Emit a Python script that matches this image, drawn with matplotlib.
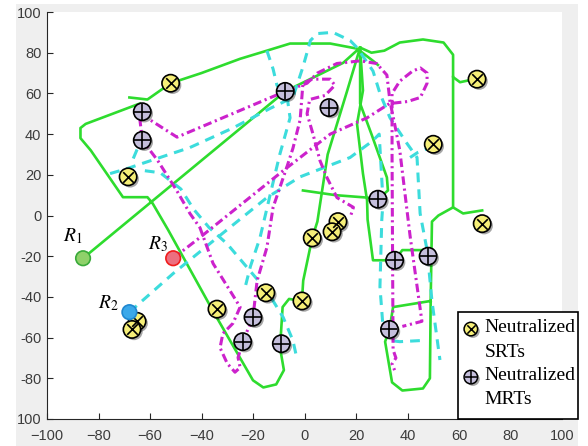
import numpy as np
import matplotlib.pyplot as plt
import matplotlib.patheffects as pe
from matplotlib.patches import Rectangle

plt.rcParams['font.family'] = 'Liberation Sans'
plt.rcParams['mathtext.fontset'] = 'stix'

# robot start positions
start_x = [-86, -68, -51]
start_y = [-21, -47.5, -21]
start_face = ['#8fd16a', '#3aa8ea', '#ec6f80']
start_edge = ['#3aaa3a', '#1f87d0', '#f01c1c']
start_names = ['$R_1$', '$R_2$', '$R_3$']
name_x = [-90, -76, -57]
name_y = [-10, -43, -14]

# neutralized single-robot targets
srt_x = [-52, -68.5, 67, 50, 69, 13, 10.7, 3, -1, -15, -34, -65, -67]
srt_y = [65, 19, 67, 35, -4, -3, -8, -11, -42, -38, -46, -52, -56]

# neutralized multi-robot targets
mrt_x = [-63, -63, -7.5, 9.5, 28.5, 35, 48, 33, -20, -24, -9]
mrt_y = [51, 37, 61, 53, 8, -22, -20, -56, -50, -62, -63]

# route of R1 (green)
green_paths = [
    [(-86, -21), (-7.5, 61), (15, 75), (21.6, 82.5), (16.5, 61), (9, 30), (5, -3), (3, -11),
     (-0.5, -32), (-1, -42), (-6, -41), (-8.5, -45), (-9.5, -65), (-8, -76), (-11, -83),
     (-16, -84.5), (-20, -81), (-35.5, -47), (-53, -7), (-59, 6), (-61, 9), (-70.5, 9),
     (-83, 32), (-87, 38), (-87, 43), (-85, 45), (-64, 55)],
    [(-68, 58), (-61, 57), (-52, 65), (-40, 70), (-25, 77), (-14.6, 81), (-5.6, 84.5),
     (10, 84.5), (20.4, 82), (26.6, 76), (28.5, 74)],
    [(21.6, 82.5), (26, 80), (31, 81), (37, 85), (46, 86.5), (54, 85), (57.7, 79),
     (57.7, 68), (60.4, 65.5), (66, 67)],
    [(57.7, 68), (57.7, 4), (61.6, 1), (69, 2.5)],
    [(57.7, 4), (52, 0), (49.5, -3), (49, -42), (48.7, -80), (46, -85), (38, -86),
     (34, -82), (31.3, -62), (33, -56), (34.4, -45), (49, -42)],
    [(21.6, 82.5), (21.6, 55), (26, 40), (32, 18.7), (32.4, 12.3), (28.5, 8)],
    [(21.6, 82.5), (22.7, 61.4), (20.4, 45), (22.7, 20.6), (24.3, 7.4), (24.5, -2),
     (26.6, -22), (35, -22)],
    [(35, -22), (38, -17), (47, -17)],
    [(-0.6, 12.3), (12, 10), (24.3, 8.8), (28.5, 8)],
]

# route of R3 (magenta)
magenta_paths = [
    [(-51, -21), (-40.6, -10.8), (-8.3, 22), (10, 40), (24.3, 48), (33, 55), (40, 56),
     (45, 58), (47.6, 65), (47.6, 70), (45, 72.5), (42, 71), (37, 66), (34, 60), (34, 30),
     (34.2, -20), (34.4, -66), (35.5, -70), (34, -73), (35, -76)],
    [(-63, 51), (-60, 47), (-49.5, 38.5), (-7.5, 61), (1, 65), (5, 70), (12.6, 74.7),
     (21.6, 76), (28, 74.7), (32, 69), (33.2, 56), (35, 45), (37, 32), (41, -10),
     (45.6, -52), (38, -54.5)],
    [(-64, 48), (-63, 37), (-57, 27), (-49.5, 12), (-44.5, 1), (-40.6, -6), (-35.5, -23.6),
     (-29, -36.8), (-25, -45), (-27.8, -53), (-31.7, -58), (-32.8, -65), (-30, -72.7),
     (-27, -77), (-25, -74.7), (-25.8, -69.8), (-24, -62), (-20, -50), (-18.4, -32),
     (-14.6, -15.7), (-12.2, 4), (-9.5, 14), (-6.8, 24), (-4.5, 33), (-1.7, 47),
     (-0.6, 65), (3, 67), (10, 67), (11.8, 64), (8, 59), (2, 57), (1, 50), (3.3, 40),
     (6, 27), (8.7, 18.7), (12.6, 8.8), (19, 4), (17.7, -1)],
]

# route of R2 (cyan)
cyan_paths = [
    [(-68, -47.5), (-51, -28.5), (-34, -11), (-14.6, 8.8), (-1.7, 19), (17.7, 28.5),
     (26.6, 36.8), (29, 40), (30.5, 7), (30, -2.5), (29.3, -35), (30.5, -55),
     (33.2, -61.4), (37, -62), (46, -61.4)],
    [(-75.5, 20.6), (-69, 23), (-62, 26), (-44.5, 33.4), (-27.8, 43), (-13.4, 52.6),
     (-4.5, 58), (-0.6, 73), (2.3, 86), (5, 89.4), (11, 90), (17.7, 86), (20.4, 82.5),
     (26.6, 71), (29.3, 60), (33.2, 48), (39.8, 35.4), (43.7, 28.5), (44.9, 1),
     (47.6, -17), (49.5, -42), (52.6, -71)],
    [(-14.6, 81), (-12.2, 72), (-10.7, 64), (-6.5, 56), (-5.6, 48), (-9.6, 30),
     (-13, 12), (-17.3, -11), (-21, -25), (-23, -35)],
    [(-62, 22), (-56, 21), (-48, 13), (-43, 3), (-37, -6), (-30, -14), (-22.3, -25.5),
     (-14.6, -37), (-8.3, -50), (-4.5, -61.4), (-3, -70)],
    [(-66.5, 28), (-64.5, 34)],
    [(41, 28.5), (44, 31), (48, 33)],
]

fig = plt.figure(figsize=(5.88, 4.46), dpi=100)
fig.add_artist(Rectangle((16 / 588, 0), 562 / 588, 442 / 446, transform=fig.transFigure,
                         facecolor='#efefef', edgecolor='none', zorder=-10))
ax = fig.add_axes([47 / 588, 27 / 446, 515 / 588, 407 / 446])
ax.set_xlim(-100, 100)
ax.set_ylim(-100, 100)

for seg in green_paths:
    xs, ys = np.array(seg).T
    ax.plot(xs, ys, color='#2edc2e', lw=1.9, solid_joinstyle='round', zorder=2)
for seg in cyan_paths:
    xs, ys = np.array(seg).T
    ax.plot(xs, ys, color='#3cdcdc', lw=2.2, dashes=(3.2, 2.3), zorder=3)
for seg in magenta_paths:
    xs, ys = np.array(seg).T
    ax.plot(xs, ys, color='#cc22cc', lw=2.2, dashes=(2.8, 1.2, 0.7, 1.2), zorder=4)

shadow = [pe.SimplePatchShadow(offset=(1.5, -1.5), shadow_rgbFace='k', alpha=0.35), pe.Normal()]

ax.scatter(srt_x, srt_y, s=155, c='#f6ef78', edgecolors='k', linewidths=1.2, zorder=5,
           path_effects=shadow)
ax.scatter(srt_x, srt_y, s=58, marker='x', c='k', linewidths=1.2, zorder=6)
ax.scatter(mrt_x, mrt_y, s=155, c='#c5bfdc', edgecolors='k', linewidths=1.2, zorder=5,
           path_effects=shadow)
ax.scatter(mrt_x, mrt_y, s=135, marker='+', c='k', linewidths=1.2, zorder=6)

ax.scatter(start_x, start_y, s=110, c=start_face, edgecolors=start_edge, linewidths=1.2,
           zorder=7)
for nx, ny, name in zip(name_x, name_y, start_names):
    ax.text(nx, ny, name, fontsize=14, ha='center', va='center', zorder=7)

# legend box
ax.add_patch(Rectangle((0.798, 0.0), 0.233, 0.263, transform=ax.transAxes, facecolor='white',
                       edgecolor='k', lw=1.2, clip_on=False, zorder=8))
leg_y = [0.221, 0.103]
ax.scatter([0.823], [leg_y[0]], s=95, c='#f6ef78', edgecolors='k', linewidths=1.1,
           transform=ax.transAxes, clip_on=False, zorder=9, path_effects=shadow)
ax.scatter([0.823], [leg_y[0]], s=36, marker='x', c='k', linewidths=1.1,
           transform=ax.transAxes, clip_on=False, zorder=10)
ax.scatter([0.823], [leg_y[1]], s=95, c='#c5bfdc', edgecolors='k', linewidths=1.1,
           transform=ax.transAxes, clip_on=False, zorder=9, path_effects=shadow)
ax.scatter([0.823], [leg_y[1]], s=85, marker='+', c='k', linewidths=1.1,
           transform=ax.transAxes, clip_on=False, zorder=10)
for ty, txt in zip([0.2236, 0.1646, 0.1057, 0.0467], ['Neutralized', 'SRTs', 'Neutralized', 'MRTs']):
    ax.text(0.850, ty, txt, transform=ax.transAxes, family='Liberation Serif', fontsize=14,
            va='center', ha='left', zorder=10)

ticks = np.arange(-100, 101, 20)
ax.set_xticks(ticks)
ax.set_yticks(ticks)
ax.set_yticklabels(['100'] + [str(t) for t in ticks[1:]])
ax.tick_params(direction='in', length=4, width=0.8, color='#262626', labelcolor='#3c3c3c',
               labelsize=10.5)
ax.tick_params(axis='x', pad=7)
ax.tick_params(axis='y', pad=4)
for side in ['top', 'right']:
    ax.spines[side].set_visible(False)
for side in ['left', 'bottom']:
    ax.spines[side].set_color('#262626')
    ax.spines[side].set_linewidth(0.8)

fig.savefig('out.png', dpi=100)
